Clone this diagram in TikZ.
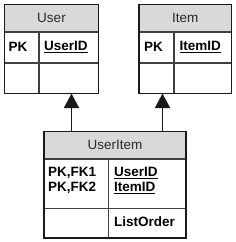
\documentclass[tikz,border=0pt]{standalone}
\usepackage{fontspec}
\setmainfont{Liberation Sans}
\usetikzlibrary{arrows.meta}
\definecolor{hdr}{HTML}{D9D9D9}
\definecolor{ln}{HTML}{1A1A1A}
\definecolor{divln}{HTML}{404040}
\definecolor{htxt}{HTML}{2A2A2A}
\tikzset{
  x=1pt,y=1pt,
  boxline/.style={draw=ln,line width=1.4pt},
  divline/.style={draw=divln,line width=1.2pt},
  hdrtext/.style={font=\fontsize{13.5}{15}\selectfont,text=htxt,inner sep=0pt},
  celltext/.style={font=\fontsize{13.5}{15}\selectfont\bfseries,text=black,inner sep=0pt,anchor=west,align=left},
  keyfield/.style={celltext},
  conn/.style={draw=ln,line width=1.4pt,-{Triangle[width=15pt,length=14.5pt]}},
}
\newcommand{\ul}[1]{\underline{#1}}
\begin{document}
\begin{tikzpicture}
\useasboundingbox (0,0) rectangle (236,-242);
% ---------- User ----------
\fill[hdr] (4.5,-4.5) rectangle (98.5,-32);
\draw[divline] (4.5,-32) -- (98.5,-32);
\draw[divline] (4.5,-63) -- (98.5,-63);
\draw[divline] (39,-32) -- (39,-93.5);
\draw[boxline] (4.5,-4.5) rectangle (98.5,-93.5);
\node[hdrtext] (userhdr) at (51.5,-18) {User};
\node[celltext] (userpk) at (8.5,-47) {PK};
\node[keyfield] (userid) at (44,-47) {\ul{UserID}};
\coordinate (userbot) at (71.5,-93.5);
% ---------- Item ----------
\fill[hdr] (139,-4.5) rectangle (231.5,-32);
\draw[divline] (139,-32) -- (231.5,-32);
\draw[divline] (139,-63) -- (231.5,-63);
\draw[divline] (174,-32) -- (174,-93.5);
\draw[boxline] (139,-4.5) rectangle (231.5,-93.5);
\node[hdrtext] (itemhdr) at (185.25,-18) {Item};
\node[celltext] (itempk) at (144,-47) {PK};
\node[keyfield] (itemid) at (179.5,-47) {\ul{ItemID}};
\coordinate (itembot) at (162.5,-93.5);
% ---------- UserItem ----------
\fill[hdr] (44,-131.5) rectangle (186,-159);
\draw[divline] (44,-159) -- (186,-159);
\draw[divline] (44,-208.5) -- (186,-208.5);
\draw[divline] (108.5,-159) -- (108.5,-238);
\draw[boxline] (44,-131.5) rectangle (186,-238);
\node[hdrtext] (uihdr) at (115,-145) {UserItem};
\node[celltext] (uipk) at (48,-180.5) {PK,FK1\\[-0.5pt]PK,FK2};
\node[keyfield] (uiids) at (114,-180.5) {\ul{UserID}\\[-0.5pt]\ul{ItemID}};
\node[celltext] (uilo) at (114,-222) {ListOrder};
\coordinate (uitop1) at (71.5,-131.5);
\coordinate (uitop2) at (162.5,-131.5);
% ---------- connectors ----------
\draw[conn] (uitop1) -- (userbot);
\draw[conn] (uitop2) -- (itembot);
\end{tikzpicture}
\end{document}
